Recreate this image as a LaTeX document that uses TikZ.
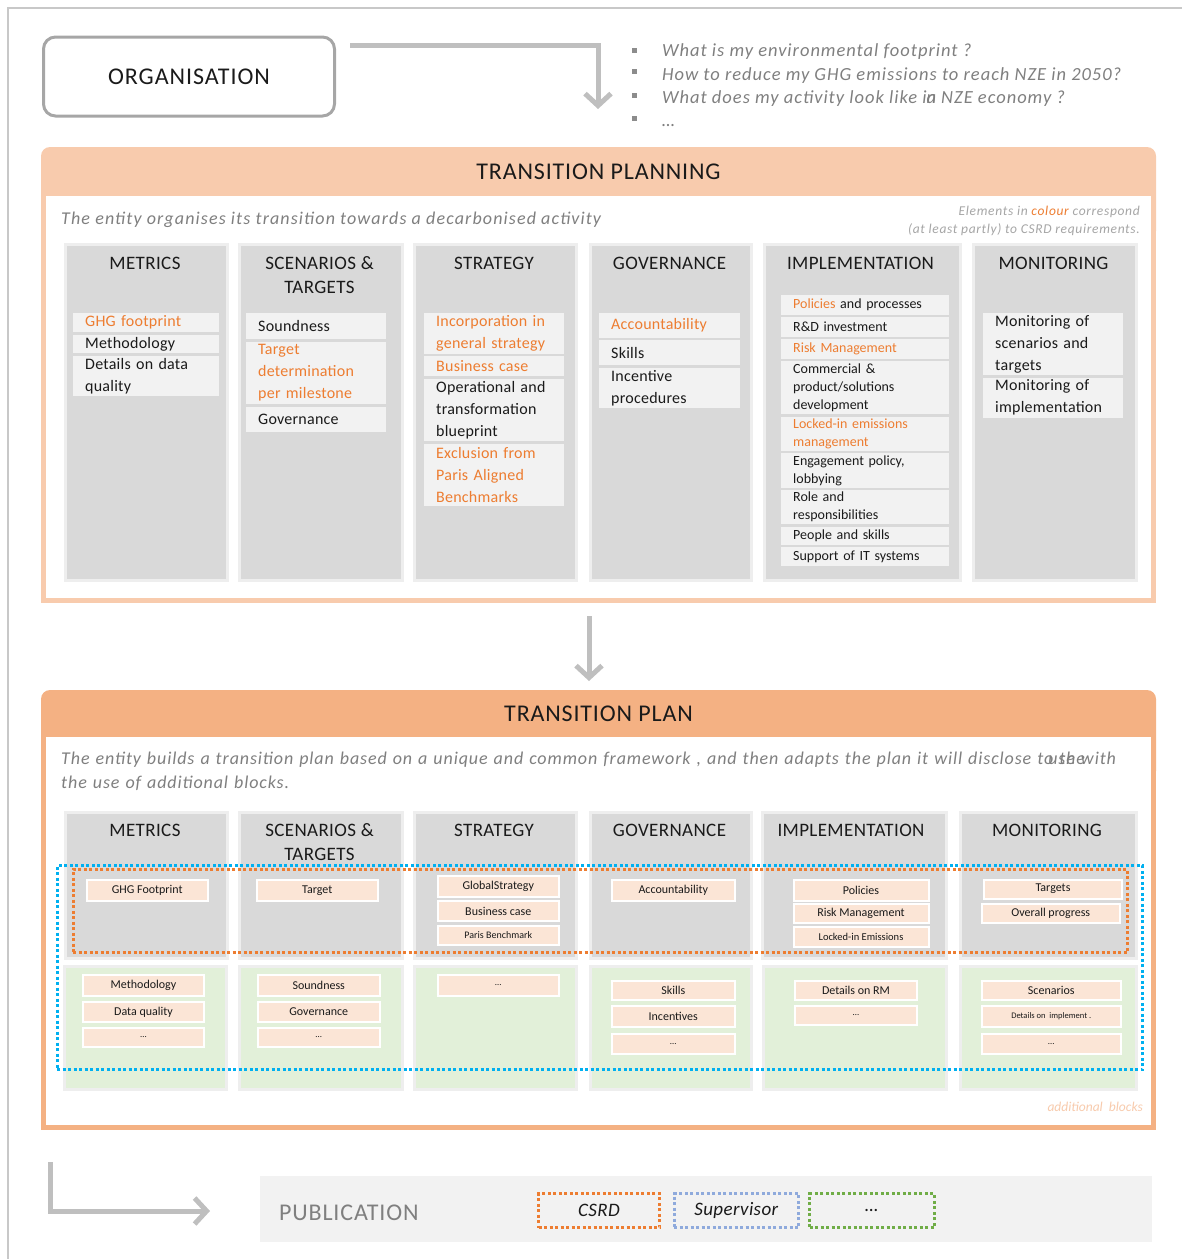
\documentclass[tikz,border=0pt]{standalone}
\usepackage{fontspec}
\setmainfont{Carlito}
\usetikzlibrary{arrows.meta}
\definecolor{frameC}{HTML}{C8C8C8}
\definecolor{orgC}{HTML}{A6A6A6}
\definecolor{arrC}{HTML}{BFBFBF}
\definecolor{peachA}{HTML}{F8CBAD}
\definecolor{peachB}{HTML}{F4B183}
\definecolor{colG}{HTML}{D9D9D9}
\definecolor{colB}{HTML}{EEEEEE}
\definecolor{itemG}{HTML}{F2F2F2}
\definecolor{orng}{HTML}{ED7D31}
\definecolor{greyT}{HTML}{7F7F7F}
\definecolor{noteT}{HTML}{A6A6A6}
\definecolor{bulC}{HTML}{8C8C8C}
\definecolor{greenF}{HTML}{E2F0D9}
\definecolor{pitemF}{HTML}{FBE5D6}
\definecolor{blueD}{HTML}{00B0F0}
\definecolor{supD}{HTML}{8FAADC}
\definecolor{greenD}{HTML}{70AD47}
\definecolor{pubF}{HTML}{F2F2F2}
\definecolor{txtC}{HTML}{1A1A1A}
\newcommand\fsz[2]{\fontsize{#1}{#2}\selectfont}
\newcommand\lsp[1]{\addfontfeatures{LetterSpace=#1}}
\newcommand\rbox[7][]{%
  \pgfmathsetmacro\bw{#5-#3}\pgfmathsetmacro\bh{#6-#4}\pgfmathsetmacro\tw{#5-#3-24}%
  \node[#1, anchor=north west, minimum width=\bw pt, minimum height=\bh pt] (#2) at (#3,#4) {#7};}
\tikzset{
  colbox/.style={fill=colG, draw=colB, line width=2.5pt, inner sep=0pt},
  grnbox/.style={fill=greenF, draw=colB, line width=2.5pt, inner sep=0pt},
  coltitle/.style={font=\fsz{19}{24}\lsp{2}, text=txtC, align=center, inner sep=0pt},
  litem/.style={fill=itemG, inner xsep=12pt, inner ysep=0pt, text width=\tw pt, align=left, font=\fsz{16}{22}\lsp{1.5}, text=txtC},
  limp/.style={litem, font=\fsz{14}{18}},
  pitem/.style={fill=pitemF, draw=white, line width=2pt, inner sep=0pt, font=\fsz{12}{14}, text=txtC, align=center},
  garrow/.style={draw=arrC, line width=5pt, -{Straight Barb[length=12pt,width=26pt]}},
  dotbox/.style={line width=3pt, dash pattern=on 3pt off 2.5pt, inner sep=0pt},
  ptitle/.style={font=\fsz{24}{28}\lsp{3.5}, text=txtC, inner sep=0pt},
  subt/.style={font=\fsz{18}{24}\itshape\lsp{6.3}, text=greyT, inner sep=0pt},
  qtext/.style={font=\fsz{18.5}{23}\itshape\lsp{5.3}, text=greyT, inner sep=0pt, anchor=base west},
  notetext/.style={font=\fsz{13.5}{18}\itshape\lsp{5}, text=noteT, inner sep=0pt, align=right},
  orgbox/.style={draw=orgC, line width=3pt, rounded corners=12pt, minimum width=291pt, minimum height=79pt, font=\fsz{24}{28}\lsp{4}, text=txtC},
  pubtext/.style={font=\fsz{24}{28}\lsp{3.5}, text=greyT, inner sep=0pt},
  pubbox/.style={dotbox, font=\fsz{19}{22}\itshape\lsp{2}, text=txtC}
}
\begin{document}
\begin{tikzpicture}[x=1pt,y=-1pt]
\useasboundingbox (0,0) rectangle (1182,1259);
% frame
\draw[frameC, line width=2pt] (8,1259) -- (8,8) -- (1182,8);
% organisation
\node[orgbox] (org) at (189,76.5) {ORGANISATION};
\coordinate (a1s) at (350,45.5);
\coordinate (a1e) at (598,109);
\draw[garrow] (a1s) -| (a1e);
% questions
\fill[bulC] (631.5,47.5) rectangle (636.5,52.5);
\fill[bulC] (631.5,69) rectangle (636.5,74);
\fill[bulC] (631.5,93) rectangle (636.5,98);
\fill[bulC] (631.5,115.5) rectangle (636.5,120.5);
\node[qtext] (q1) at (662,56.5) {What is my environmental footprint ?};
\node[qtext] (q2) at (662,80) {How to reduce my GHG emissions to reach NZE in 2050?};
\node[qtext] (q3) at (662,103.5) {What does my activity look like i\rlap{n}a NZE economy ?};
\node[qtext] (q4) at (662,126) {…};
% ===== TRANSITION PLANNING panel =====
\fill[peachA, rounded corners=9pt] (41,147) rectangle (1156,240);
\fill[peachA] (41,200) rectangle (1156,603);
\fill[white] (46,196) rectangle (1151,598);
\node[ptitle] (tpg) at (598.5,172) {TRANSITION PLANNING};
\node[subt, anchor=west] (tpgsub) at (61,220) {The entity organises its transition towards a decarbonised activity};
\node[notetext, anchor=north east] (tpgnote) at (1140,205.5) {Elements in \textcolor{orng}{colour} correspond\\(at least partly) to CSRD requirements.};
% columns
\rbox[colbox]{c1}{64}{243}{226}{579}{}
\rbox[colbox]{c2}{238}{243}{401}{579}{}
\rbox[colbox]{c3}{413}{243}{575}{579}{}
\rbox[colbox]{c4}{589}{243}{750}{579}{}
\rbox[colbox]{c5}{763}{243}{959}{579}{}
\rbox[colbox]{c6}{972}{243}{1135}{579}{}
\node[coltitle] (t1) at (145,263) {METRICS};
\node[coltitle] (t2) at (319.5,275) {SCENARIOS \&\\TARGETS};
\node[coltitle] (t3) at (494,263) {STRATEGY};
\node[coltitle] (t4) at (669.5,263) {GOVERNANCE};
\node[coltitle] (t5) at (860.5,263) {IMPLEMENTATION};
\node[coltitle] (t6) at (1053.5,263) {MONITORING};
% metrics items
\rbox[litem, text=orng]{m1}{73}{313}{219}{332}{GHG footprint}
\rbox[litem]{m2}{73}{334.5}{219}{353}{Methodology}
\rbox[litem]{m3}{73}{355.5}{219}{396}{Details on data\\quality}
% scenarios items
\rbox[litem]{s1}{246}{313}{386}{339}{Soundness}
\rbox[litem, text=orng]{s2}{246}{341.5}{386}{404}{Target\\determination\\per milestone}
\rbox[litem]{s3}{246}{406.5}{386}{431.5}{Governance}
% strategy items
\rbox[litem, text=orng]{g1}{424}{313}{564}{353.5}{Incorporation in\\general strategy}
\rbox[litem, text=orng]{g2}{424}{356}{564}{376}{Business case}
\rbox[litem]{g3}{424}{378.5}{564}{441}{Operational and\\transformation\\blueprint}
\rbox[litem, text=orng]{g4}{424}{443.5}{564}{505.5}{Exclusion from\\Paris Aligned\\Benchmarks}
% governance items
\rbox[litem, text=orng]{v1}{599}{312.5}{740}{337.5}{Accountability}
\rbox[litem]{v2}{599}{340}{740}{365}{Skills}
\rbox[litem]{v3}{599}{367.5}{740}{408}{Incentive\\procedures}
% implementation items
\rbox[limp]{i1}{781}{295}{949}{314.5}{\textcolor{orng}{Policies} and processes}
\rbox[limp]{i2}{781}{317}{949}{336.5}{R\&D investment}
\rbox[limp, text=orng]{i3}{781}{339}{949}{358.5}{Risk Management}
\rbox[limp]{i4}{781}{361}{949}{414}{Commercial \&\\product/solutions\\development}
\rbox[limp, text=orng]{i5}{781}{416.5}{949}{450.5}{Locked-in emissions\\management}
\rbox[limp]{i6}{781}{453}{949}{487.5}{Engagement policy,\\lobbying}
\rbox[limp]{i7}{781}{490}{949}{524}{Role and\\responsibilities}
\rbox[limp]{i8}{781}{526.5}{949}{544.5}{People and skills}
\rbox[limp]{i9}{781}{547}{949}{566}{Support of IT systems}
% monitoring items
\rbox[litem]{n1}{983}{312.5}{1123}{375}{Monitoring of\\scenarios and\\targets}
\rbox[litem]{n2}{983}{377.5}{1123}{417.5}{Monitoring of\\implementation}
% arrow between panels
\coordinate (a2s) at (589,616);
\coordinate (a2e) at (589,681);
\draw[garrow] (a2s) -- (a2e);
% ===== TRANSITION PLAN panel =====
\fill[peachB, rounded corners=9pt] (41,690) rectangle (1156,780);
\fill[peachB] (41,740) rectangle (1156,1130);
\fill[white] (46,737) rectangle (1151,1125);
\node[ptitle] (tpl) at (598.5,714) {TRANSITION PLAN};
\node[subt, font=\fsz{18}{24}\itshape\lsp{5}, anchor=north west, text width=1090pt, align=left] (tplsub) at (61,752) {The entity builds a transition plan based on a unique and common framework , and then adapts the plan it will disclose \rlap{to the}\hspace{11pt}use with\\the use of additional blocks.};
% columns
\rbox[colbox]{p1}{64}{811}{226}{957}{}
\rbox[colbox]{p2}{238}{811}{401}{957}{}
\rbox[colbox]{p3}{413}{811}{575}{957}{}
\rbox[colbox]{p4}{589}{811}{750}{957}{}
\rbox[colbox]{p5}{761}{811}{945}{957}{}
\rbox[colbox]{p6}{959}{811}{1135}{957}{}
\rbox[grnbox]{r1}{63}{965}{225}{1088}{}
\rbox[grnbox]{r2}{238}{965}{401}{1088}{}
\rbox[grnbox]{r3}{413}{965}{575}{1088}{}
\rbox[grnbox]{r4}{589}{965}{750}{1088}{}
\rbox[grnbox]{r5}{762}{965}{945}{1088}{}
\rbox[grnbox]{r6}{959}{965}{1135}{1088}{}
\node[coltitle] (u1) at (145,830) {METRICS};
\node[coltitle] (u2) at (319.5,842) {SCENARIOS \&\\TARGETS};
\node[coltitle] (u3) at (494,830) {STRATEGY};
\node[coltitle] (u4) at (669.5,830) {GOVERNANCE};
\node[coltitle] (u5) at (851,830) {IMPLEMENTATION};
\node[coltitle] (u6) at (1047,830) {MONITORING};
% plan items - metrics
\rbox[pitem]{pm1}{85.5}{878.5}{207}{900}{GHG Footprint}
\rbox[pitem]{pm2}{82}{973.5}{203}{995}{Methodology}
\rbox[pitem]{pm3}{82}{1001}{203}{1021}{Data quality}
\rbox[pitem, font=\fsz{9}{10}]{pm4}{82}{1027}{203}{1046}{…}
% scenarios
\rbox[pitem]{ps1}{255.5}{878.5}{377}{900}{Target}
\rbox[pitem]{ps2}{257}{973.5}{378.5}{995}{Soundness}
\rbox[pitem]{ps3}{257}{1001}{378.5}{1021}{Governance}
\rbox[pitem, font=\fsz{9}{10}]{ps4}{257}{1027}{378.5}{1046}{…}
% strategy
\rbox[pitem]{pg1}{436.5}{875}{558}{896}{GlobalStrategy}
\rbox[pitem]{pg2}{436.5}{900}{558}{920}{Business case}
\rbox[pitem, font=\fsz{10}{12}]{pg3}{436.5}{924.5}{558}{943.5}{Paris Benchmark}
\rbox[pitem, font=\fsz{9}{10}]{pg4}{436.5}{973.5}{558}{995}{…}
% governance
\rbox[pitem]{pv1}{611}{878.5}{733.5}{900}{Accountability}
\rbox[pitem]{pv2}{611}{979.5}{733.5}{998.5}{Skills}
\rbox[pitem]{pv3}{611}{1004.5}{733.5}{1025.5}{Incentives}
\rbox[pitem, font=\fsz{9}{10}]{pv4}{611}{1032.5}{733.5}{1053}{…}
% implementation
\rbox[pitem]{pi1}{792.5}{878.5}{927.5}{900}{Policies}
\rbox[pitem]{pi2}{792.5}{902.5}{927.5}{921.5}{Risk Management}
\rbox[pitem, font=\fsz{10.5}{12}]{pi3}{792.5}{926}{927.5}{945.5}{Locked-in Emissions}
\rbox[pitem]{pi4}{794}{979.5}{916}{998.5}{Details on RM}
\rbox[pitem, font=\fsz{9}{10}]{pi5}{794}{1004.5}{916}{1024}{…}
% monitoring
\rbox[pitem]{pn1}{983}{878.5}{1121}{897.5}{Targets}
\rbox[pitem]{pn2}{980.5}{902.5}{1119}{921.5}{Overall progress}
\rbox[pitem]{pn3}{980.5}{979.5}{1120}{998.5}{Scenarios}
\rbox[pitem, font=\fsz{8.5}{10}]{pn4}{980.5}{1004.5}{1120}{1025.5}{Details on\ \ implement .}
\rbox[pitem, font=\fsz{9}{10}]{pn5}{980.5}{1032.5}{1120}{1053}{…}
% dotted frames
\rbox[dotbox, draw=orng]{orngframe}{71.5}{867.5}{1125.5}{951}{}
\rbox[dotbox, draw=blueD]{blueframe}{55.5}{864}{1141}{1068}{}
\node[font=\fsz{13.5}{16}\itshape, text=peachA, inner sep=0pt, anchor=east] (addb) at (1143,1107) {additional\ \ blocks};
% ===== PUBLICATION =====
\coordinate (a3s) at (50,1162);
\coordinate (a3e) at (210,1211);
\draw[garrow] (a3s) |- (a3e);
\rbox[fill=pubF, inner sep=0pt]{pub}{260}{1176}{1152}{1242}{}
\node[pubtext, anchor=west] (pubt) at (279,1212.5) {PUBLICATION};
\rbox[pubbox, draw=orng]{csrd}{537}{1192}{658}{1226}{CSRD}
\rbox[pubbox, draw=supD]{sup}{672.5}{1192}{797}{1226}{Supervisor}
\rbox[pubbox, draw=greenD]{etc}{808}{1192}{932.5}{1226}{…}
\end{tikzpicture}
\end{document}
